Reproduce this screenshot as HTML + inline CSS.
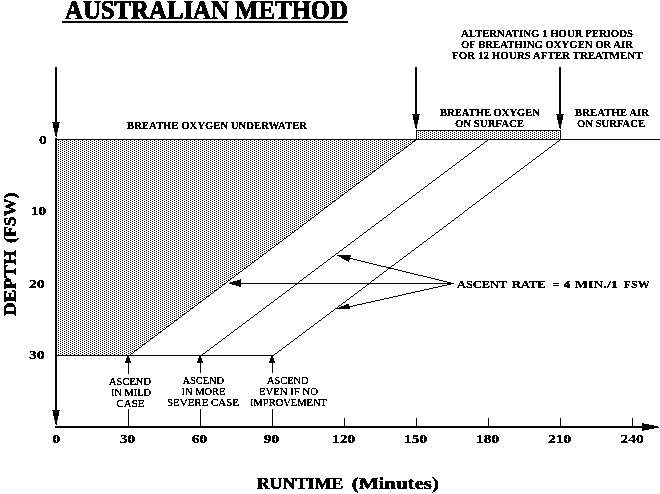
<!DOCTYPE html>
<html><head><meta charset="utf-8">
<style>
html,body{margin:0;padding:0;background:#fff;}
body{width:660px;height:494px;overflow:hidden;}
svg{display:block;}
text{font-family:"Liberation Serif",serif;fill:#000;}
.b{font-weight:bold;stroke:#000;stroke-width:0.1px;}
.d{font-weight:bold;}
.h{font-weight:bold;stroke:#000;stroke-width:0.3px;}
</style></head><body>
<svg width="660" height="494" viewBox="0 0 660 494">
<defs>
<pattern id="dots" x="0" y="0" width="4" height="2" patternUnits="userSpaceOnUse">
<rect x="2" y="0" width="1" height="1" fill="#000"/>
<rect x="0" y="1" width="1" height="1" fill="#000"/>
</pattern>
<filter id="th" filterUnits="userSpaceOnUse" x="0" y="0" width="660" height="494" color-interpolation-filters="sRGB">
<feComponentTransfer><feFuncA type="discrete" tableValues="0 0 1 1 1"/></feComponentTransfer>
</filter>
<filter id="th3" filterUnits="userSpaceOnUse" x="0" y="0" width="660" height="494" color-interpolation-filters="sRGB">
<feComponentTransfer><feFuncA type="discrete" tableValues="0 1 1"/></feComponentTransfer>
</filter>
<filter id="th2" filterUnits="userSpaceOnUse" x="0" y="0" width="660" height="494" color-interpolation-filters="sRGB">
<feComponentTransfer><feFuncA type="discrete" tableValues="0 0 1 1 1 1 1"/></feComponentTransfer>
</filter>
<g id="ad"><rect x="0" y="0" width="8" height="1"/><rect x="1" y="1" width="6" height="5"/><rect x="2" y="6" width="4" height="4"/><rect x="3" y="10" width="2" height="4"/><rect x="4" y="14" width="1" height="1"/></g>
<g id="au"><rect x="2" y="0" width="2" height="2"/><rect x="1" y="2" width="4" height="3"/><rect x="0" y="5" width="6" height="2"/></g>
<g id="ar"><rect x="0" y="0" width="2" height="8"/><rect x="2" y="1" width="5" height="6"/><rect x="7" y="2" width="5" height="4"/><rect x="12" y="3" width="4" height="2"/><rect x="16" y="4" width="1" height="1"/></g>
</defs>
<rect width="660" height="494" fill="#fff"/>
<g shape-rendering="crispEdges">
<!-- shaded regions -->
<polygon points="57,140 416,140 130,355 57,355" fill="url(#dots)"/>
<rect x="417" y="131" width="143" height="8" fill="url(#dots)"/>
<!-- rect border -->
<rect x="416" y="130" width="145" height="1" fill="#000"/>
<rect x="416" y="130" width="1" height="10" fill="#000"/>
<rect x="560" y="130" width="1" height="10" fill="#000"/>
<!-- main horizontal lines -->
<rect x="55" y="139" width="605" height="1" fill="#000"/>
<rect x="55" y="355" width="219" height="1" fill="#000"/>
<!-- axes -->
<rect x="55" y="138" width="2" height="273" fill="#000"/>
<rect x="55" y="426" width="588" height="2" fill="#000"/>
<!-- ticks -->
<rect x="344" y="418" width="1" height="8" fill="#000"/>
<rect x="416" y="418" width="1" height="8" fill="#000"/>
<rect x="488" y="418" width="1" height="8" fill="#000"/>
<rect x="560" y="418" width="1" height="8" fill="#000"/>
<rect x="632" y="418" width="1" height="8" fill="#000"/>
<!-- vertical ascend lines -->
<rect x="128" y="356" width="1" height="18" fill="#000"/>
<rect x="128" y="409" width="1" height="17" fill="#000"/>
<rect x="200" y="356" width="1" height="17" fill="#000"/>
<rect x="200" y="409" width="1" height="17" fill="#000"/>
<rect x="272" y="356" width="1" height="17" fill="#000"/>
<rect x="272" y="409" width="1" height="17" fill="#000"/>
<!-- diagonals -->
<g stroke="#000" stroke-width="1" fill="none">
<path d="M416 139.5h1M415 140.5h1M413 141.5h2M412 142.5h1M411 143.5h1M409 144.5h2M408 145.5h1M407 146.5h1M405 147.5h2M404 148.5h1M403 149.5h1M401 150.5h2M400 151.5h1M399 152.5h1M397 153.5h2M396 154.5h1M395 155.5h1M393 156.5h2M392 157.5h1M391 158.5h1M389 159.5h2M388 160.5h1M387 161.5h1M385 162.5h2M384 163.5h1M383 164.5h1M381 165.5h2M380 166.5h1M379 167.5h1M377 168.5h2M376 169.5h1M375 170.5h1M373 171.5h2M372 172.5h1M371 173.5h1M369 174.5h2M368 175.5h1M367 176.5h1M365 177.5h2M364 178.5h1M363 179.5h1M361 180.5h2M360 181.5h1M359 182.5h1M357 183.5h2M356 184.5h1M355 185.5h1M353 186.5h2M352 187.5h1M351 188.5h1M349 189.5h2M348 190.5h1M347 191.5h1M345 192.5h2M344 193.5h1M343 194.5h1M341 195.5h2M340 196.5h1M339 197.5h1M337 198.5h2M336 199.5h1M335 200.5h1M333 201.5h2M332 202.5h1M331 203.5h1M329 204.5h2M328 205.5h1M327 206.5h1M325 207.5h2M324 208.5h1M323 209.5h1M321 210.5h2M320 211.5h1M319 212.5h1M318 213.5h1M316 214.5h2M315 215.5h1M314 216.5h1M312 217.5h2M311 218.5h1M310 219.5h1M308 220.5h2M307 221.5h1M306 222.5h1M304 223.5h2M303 224.5h1M302 225.5h1M300 226.5h2M299 227.5h1M298 228.5h1M296 229.5h2M295 230.5h1M294 231.5h1M292 232.5h2M291 233.5h1M290 234.5h1M288 235.5h2M287 236.5h1M286 237.5h1M284 238.5h2M283 239.5h1M282 240.5h1M280 241.5h2M279 242.5h1M278 243.5h1M276 244.5h2M275 245.5h1M274 246.5h1M272 247.5h2M271 248.5h1M270 249.5h1M268 250.5h2M267 251.5h1M266 252.5h1M264 253.5h2M263 254.5h1M262 255.5h1M260 256.5h2M259 257.5h1M258 258.5h1M256 259.5h2M255 260.5h1M254 261.5h1M252 262.5h2M251 263.5h1M250 264.5h1M248 265.5h2M247 266.5h1M246 267.5h1M244 268.5h2M243 269.5h1M242 270.5h1M240 271.5h2M239 272.5h1M238 273.5h1M236 274.5h2M235 275.5h1M234 276.5h1M232 277.5h2M231 278.5h1M230 279.5h1M228 280.5h2M227 281.5h1M226 282.5h1M225 283.5h1M223 284.5h2M222 285.5h1M221 286.5h1M219 287.5h2M218 288.5h1M217 289.5h1M215 290.5h2M214 291.5h1M213 292.5h1M211 293.5h2M210 294.5h1M209 295.5h1M207 296.5h2M206 297.5h1M205 298.5h1M203 299.5h2M202 300.5h1M201 301.5h1M199 302.5h2M198 303.5h1M197 304.5h1M195 305.5h2M194 306.5h1M193 307.5h1M191 308.5h2M190 309.5h1M189 310.5h1M187 311.5h2M186 312.5h1M185 313.5h1M183 314.5h2M182 315.5h1M181 316.5h1M179 317.5h2M178 318.5h1M177 319.5h1M175 320.5h2M174 321.5h1M173 322.5h1M171 323.5h2M170 324.5h1M169 325.5h1M167 326.5h2M166 327.5h1M165 328.5h1M163 329.5h2M162 330.5h1M161 331.5h1M159 332.5h2M158 333.5h1M157 334.5h1M155 335.5h2M154 336.5h1M153 337.5h1M151 338.5h2M150 339.5h1M149 340.5h1M147 341.5h2M146 342.5h1M145 343.5h1M143 344.5h2M142 345.5h1M141 346.5h1M139 347.5h2M138 348.5h1M137 349.5h1M135 350.5h2M134 351.5h1M133 352.5h1M131 353.5h2M130 354.5h1M129 355.5h1M488 139.5h1M487 140.5h1M485 141.5h2M484 142.5h1M483 143.5h1M481 144.5h2M480 145.5h1M479 146.5h1M477 147.5h2M476 148.5h1M475 149.5h1M473 150.5h2M472 151.5h1M471 152.5h1M469 153.5h2M468 154.5h1M467 155.5h1M465 156.5h2M464 157.5h1M463 158.5h1M461 159.5h2M460 160.5h1M459 161.5h1M457 162.5h2M456 163.5h1M455 164.5h1M453 165.5h2M452 166.5h1M451 167.5h1M449 168.5h2M448 169.5h1M447 170.5h1M445 171.5h2M444 172.5h1M443 173.5h1M441 174.5h2M440 175.5h1M439 176.5h1M437 177.5h2M436 178.5h1M435 179.5h1M433 180.5h2M432 181.5h1M431 182.5h1M429 183.5h2M428 184.5h1M427 185.5h1M425 186.5h2M424 187.5h1M423 188.5h1M421 189.5h2M420 190.5h1M419 191.5h1M417 192.5h2M416 193.5h1M415 194.5h1M413 195.5h2M412 196.5h1M411 197.5h1M409 198.5h2M408 199.5h1M407 200.5h1M405 201.5h2M404 202.5h1M403 203.5h1M401 204.5h2M400 205.5h1M399 206.5h1M397 207.5h2M396 208.5h1M395 209.5h1M393 210.5h2M392 211.5h1M391 212.5h1M390 213.5h1M388 214.5h2M387 215.5h1M386 216.5h1M384 217.5h2M383 218.5h1M382 219.5h1M380 220.5h2M379 221.5h1M378 222.5h1M376 223.5h2M375 224.5h1M374 225.5h1M372 226.5h2M371 227.5h1M370 228.5h1M368 229.5h2M367 230.5h1M366 231.5h1M364 232.5h2M363 233.5h1M362 234.5h1M360 235.5h2M359 236.5h1M358 237.5h1M356 238.5h2M355 239.5h1M354 240.5h1M352 241.5h2M351 242.5h1M350 243.5h1M348 244.5h2M347 245.5h1M346 246.5h1M344 247.5h2M343 248.5h1M342 249.5h1M340 250.5h2M339 251.5h1M338 252.5h1M336 253.5h2M335 254.5h1M334 255.5h1M332 256.5h2M331 257.5h1M330 258.5h1M328 259.5h2M327 260.5h1M326 261.5h1M324 262.5h2M323 263.5h1M322 264.5h1M320 265.5h2M319 266.5h1M318 267.5h1M316 268.5h2M315 269.5h1M314 270.5h1M312 271.5h2M311 272.5h1M310 273.5h1M308 274.5h2M307 275.5h1M306 276.5h1M304 277.5h2M303 278.5h1M302 279.5h1M300 280.5h2M299 281.5h1M298 282.5h1M297 283.5h1M295 284.5h2M294 285.5h1M293 286.5h1M291 287.5h2M290 288.5h1M289 289.5h1M287 290.5h2M286 291.5h1M285 292.5h1M283 293.5h2M282 294.5h1M281 295.5h1M279 296.5h2M278 297.5h1M277 298.5h1M275 299.5h2M274 300.5h1M273 301.5h1M271 302.5h2M270 303.5h1M269 304.5h1M267 305.5h2M266 306.5h1M265 307.5h1M263 308.5h2M262 309.5h1M261 310.5h1M259 311.5h2M258 312.5h1M257 313.5h1M255 314.5h2M254 315.5h1M253 316.5h1M251 317.5h2M250 318.5h1M249 319.5h1M247 320.5h2M246 321.5h1M245 322.5h1M243 323.5h2M242 324.5h1M241 325.5h1M239 326.5h2M238 327.5h1M237 328.5h1M235 329.5h2M234 330.5h1M233 331.5h1M231 332.5h2M230 333.5h1M229 334.5h1M227 335.5h2M226 336.5h1M225 337.5h1M223 338.5h2M222 339.5h1M221 340.5h1M219 341.5h2M218 342.5h1M217 343.5h1M215 344.5h2M214 345.5h1M213 346.5h1M211 347.5h2M210 348.5h1M209 349.5h1M207 350.5h2M206 351.5h1M205 352.5h1M203 353.5h2M202 354.5h1M201 355.5h1M560 139.5h1M559 140.5h1M557 141.5h2M556 142.5h1M555 143.5h1M553 144.5h2M552 145.5h1M551 146.5h1M549 147.5h2M548 148.5h1M547 149.5h1M545 150.5h2M544 151.5h1M543 152.5h1M541 153.5h2M540 154.5h1M539 155.5h1M537 156.5h2M536 157.5h1M535 158.5h1M533 159.5h2M532 160.5h1M531 161.5h1M529 162.5h2M528 163.5h1M527 164.5h1M525 165.5h2M524 166.5h1M523 167.5h1M521 168.5h2M520 169.5h1M519 170.5h1M517 171.5h2M516 172.5h1M515 173.5h1M513 174.5h2M512 175.5h1M511 176.5h1M509 177.5h2M508 178.5h1M507 179.5h1M505 180.5h2M504 181.5h1M503 182.5h1M501 183.5h2M500 184.5h1M499 185.5h1M497 186.5h2M496 187.5h1M495 188.5h1M493 189.5h2M492 190.5h1M491 191.5h1M489 192.5h2M488 193.5h1M487 194.5h1M485 195.5h2M484 196.5h1M483 197.5h1M481 198.5h2M480 199.5h1M479 200.5h1M477 201.5h2M476 202.5h1M475 203.5h1M473 204.5h2M472 205.5h1M471 206.5h1M469 207.5h2M468 208.5h1M467 209.5h1M465 210.5h2M464 211.5h1M463 212.5h1M462 213.5h1M460 214.5h2M459 215.5h1M458 216.5h1M456 217.5h2M455 218.5h1M454 219.5h1M452 220.5h2M451 221.5h1M450 222.5h1M448 223.5h2M447 224.5h1M446 225.5h1M444 226.5h2M443 227.5h1M442 228.5h1M440 229.5h2M439 230.5h1M438 231.5h1M436 232.5h2M435 233.5h1M434 234.5h1M432 235.5h2M431 236.5h1M430 237.5h1M428 238.5h2M427 239.5h1M426 240.5h1M424 241.5h2M423 242.5h1M422 243.5h1M420 244.5h2M419 245.5h1M418 246.5h1M416 247.5h2M415 248.5h1M414 249.5h1M412 250.5h2M411 251.5h1M410 252.5h1M408 253.5h2M407 254.5h1M406 255.5h1M404 256.5h2M403 257.5h1M402 258.5h1M400 259.5h2M399 260.5h1M398 261.5h1M396 262.5h2M395 263.5h1M394 264.5h1M392 265.5h2M391 266.5h1M390 267.5h1M388 268.5h2M387 269.5h1M386 270.5h1M384 271.5h2M383 272.5h1M382 273.5h1M380 274.5h2M379 275.5h1M378 276.5h1M376 277.5h2M375 278.5h1M374 279.5h1M372 280.5h2M371 281.5h1M370 282.5h1M369 283.5h1M367 284.5h2M366 285.5h1M365 286.5h1M363 287.5h2M362 288.5h1M361 289.5h1M359 290.5h2M358 291.5h1M357 292.5h1M355 293.5h2M354 294.5h1M353 295.5h1M351 296.5h2M350 297.5h1M349 298.5h1M347 299.5h2M346 300.5h1M345 301.5h1M343 302.5h2M342 303.5h1M341 304.5h1M339 305.5h2M338 306.5h1M337 307.5h1M335 308.5h2M334 309.5h1M333 310.5h1M331 311.5h2M330 312.5h1M329 313.5h1M327 314.5h2M326 315.5h1M325 316.5h1M323 317.5h2M322 318.5h1M321 319.5h1M319 320.5h2M318 321.5h1M317 322.5h1M315 323.5h2M314 324.5h1M313 325.5h1M311 326.5h2M310 327.5h1M309 328.5h1M307 329.5h2M306 330.5h1M305 331.5h1M303 332.5h2M302 333.5h1M301 334.5h1M299 335.5h2M298 336.5h1M297 337.5h1M295 338.5h2M294 339.5h1M293 340.5h1M291 341.5h2M290 342.5h1M289 343.5h1M287 344.5h2M286 345.5h1M285 346.5h1M283 347.5h2M282 348.5h1M281 349.5h1M279 350.5h2M278 351.5h1M277 352.5h1M275 353.5h2M274 354.5h1M273 355.5h1M350 258.5h3M353 259.5h4M357 260.5h4M361 261.5h4M365 262.5h4M369 263.5h4M373 264.5h4M377 265.5h4M381 266.5h5M386 267.5h4M390 268.5h4M394 269.5h4M398 270.5h4M402 271.5h4M406 272.5h4M410 273.5h4M414 274.5h4M418 275.5h5M423 276.5h4M427 277.5h4M431 278.5h4M435 279.5h4M439 280.5h4M443 281.5h4M447 282.5h4M451 283.5h3M451 283.5h3M447 284.5h4M442 285.5h5M438 286.5h4M433 287.5h5M429 288.5h4M424 289.5h5M420 290.5h4M415 291.5h5M411 292.5h4M406 293.5h5M402 294.5h4M398 295.5h4M393 296.5h5M389 297.5h4M384 298.5h5M380 299.5h4M375 300.5h5M371 301.5h4M366 302.5h5M362 303.5h4M357 304.5h5M353 305.5h4M350 306.5h3"/>
<line x1="453" y1="283.5" x2="240" y2="283.5"/>
</g>
<!-- arrow shafts -->
<rect x="55" y="67" width="2" height="56" fill="#000"/>
<rect x="415" y="67" width="2" height="48" fill="#000"/>
<rect x="559" y="67" width="2" height="48" fill="#000"/>
<!-- arrow heads down -->
<use href="#ad" x="52" y="122"/>
<use href="#ad" x="412" y="114"/>
<use href="#ad" x="556" y="114"/>
<use href="#ad" x="52" y="410"/>
<!-- x axis arrow -->
<use href="#ar" x="642" y="423"/>
<!-- up arrows -->
<use href="#au" x="125" y="356"/>
<use href="#au" x="197" y="356"/>
<use href="#au" x="269" y="356"/>
<!-- ascent arrows heads -->
<g fill="#000"><rect x="240" y="279" width="1" height="1"/><rect x="237" y="280" width="4" height="1"/><rect x="233" y="281" width="8" height="1"/><rect x="230" y="282" width="11" height="1"/><rect x="229" y="283" width="12" height="1"/><rect x="232" y="284" width="9" height="1"/><rect x="236" y="285" width="5" height="1"/><rect x="239" y="286" width="2" height="1"/>
<rect x="337" y="255" width="14" height="1"/><rect x="339" y="256" width="12" height="1"/><rect x="341" y="257" width="9" height="1"/><rect x="342" y="258" width="8" height="1"/><rect x="344" y="259" width="6" height="1"/><rect x="346" y="260" width="3" height="1"/><rect x="348" y="261" width="1" height="1"/>
<rect x="346" y="304" width="3" height="1"/><rect x="344" y="305" width="5" height="1"/><rect x="341" y="306" width="9" height="1"/><rect x="339" y="307" width="11" height="1"/><rect x="337" y="308" width="13" height="1"/></g>
<!-- title underline -->
<rect x="62" y="21" width="286" height="2" fill="#000"/>
</g>
<!-- text -->
<g id="txt" filter="url(#th)">
<text class="h" style="stroke-width:0.6px" x="65" y="18.5" font-size="26.5" textLength="283" lengthAdjust="spacingAndGlyphs">AUSTRALIAN METHOD</text>
<text class="b" x="461" y="37" font-size="11" textLength="172" lengthAdjust="spacingAndGlyphs">ALTERNATING 1 HOUR PERIODS</text>
<text class="b" x="461" y="48" font-size="11" textLength="172" lengthAdjust="spacingAndGlyphs">OF BREATHING OXYGEN OR AIR</text>
<text class="b" x="452" y="59" font-size="11" textLength="190.5" lengthAdjust="spacingAndGlyphs">FOR 12 HOURS AFTER TREATMENT</text>
<text class="b" x="127" y="129" font-size="11" textLength="180" lengthAdjust="spacingAndGlyphs">BREATHE OXYGEN UNDERWATER</text>
<text class="b" x="440" y="116" font-size="11" textLength="100" lengthAdjust="spacingAndGlyphs">BREATHE OXYGEN</text>
<text class="b" x="455" y="127" font-size="11" textLength="69" lengthAdjust="spacingAndGlyphs">ON SURFACE</text>
<text class="b" x="575" y="116" font-size="11" textLength="74" lengthAdjust="spacingAndGlyphs">BREATHE AIR</text>
<text class="b" x="577" y="127" font-size="11" textLength="68" lengthAdjust="spacingAndGlyphs">ON SURFACE</text>
<text class="b" x="457" y="287.5" font-size="11" textLength="50.3" lengthAdjust="spacingAndGlyphs">ASCENT</text>
<text class="b" x="512" y="287.5" font-size="11" textLength="33.5" lengthAdjust="spacingAndGlyphs">RATE</text>
<text class="b" x="552.5" y="287.5" font-size="11" textLength="7.5" lengthAdjust="spacingAndGlyphs">=</text>
<text class="b" x="563.7" y="287.5" font-size="11" textLength="6.7" lengthAdjust="spacingAndGlyphs">4</text>
<text class="b" x="574.8" y="287.5" font-size="11" textLength="43" lengthAdjust="spacingAndGlyphs">MIN./1</text>
<text class="b" x="623.6" y="287.5" font-size="11" textLength="26.1" lengthAdjust="spacingAndGlyphs">FSW</text>
<text class="h" x="256.7" y="489" font-size="17.5" textLength="86.6" lengthAdjust="spacingAndGlyphs">RUNTIME</text>
<text class="h" x="351.7" y="489" font-size="17.5" textLength="87.3" lengthAdjust="spacingAndGlyphs">(Minutes)</text>
<g transform="translate(15.5,316) rotate(-90)" font-size="17.5">
<text class="h" x="0" y="0" textLength="66" lengthAdjust="spacingAndGlyphs">DEPTH</text>
<text class="h" x="73" y="0" textLength="50.5" lengthAdjust="spacingAndGlyphs">(FSW)</text>
</g>
</g>
<g filter="url(#th3)">
<!-- y labels -->
<text class="d" transform="translate(39.0,144) scale(1.3,1)" font-size="12" letter-spacing="0">0</text>
<text class="d" transform="translate(30.7,215) scale(1.3,1)" font-size="12" letter-spacing="0">10</text>
<text class="d" transform="translate(29.0,288) scale(1.3,1)" font-size="12" letter-spacing="0">20</text>
<text class="d" transform="translate(29.0,359) scale(1.3,1)" font-size="12" letter-spacing="0">30</text>
<!-- x labels -->
<text class="d" transform="translate(52.5,443) scale(1.3,1)" font-size="12" letter-spacing="0">0</text>
<text class="d" transform="translate(119.7,443) scale(1.3,1)" font-size="12" letter-spacing="0">30</text>
<text class="d" transform="translate(191.7,443) scale(1.3,1)" font-size="12" letter-spacing="0">60</text>
<text class="d" transform="translate(263.7,443) scale(1.3,1)" font-size="12" letter-spacing="0">90</text>
<text class="d" transform="translate(332.0,443) scale(1.3,1)" font-size="12" letter-spacing="0">120</text>
<text class="d" transform="translate(404.0,443) scale(1.3,1)" font-size="12" letter-spacing="0">150</text>
<text class="d" transform="translate(476.0,443) scale(1.3,1)" font-size="12" letter-spacing="0">180</text>
<text class="d" transform="translate(548.0,443) scale(1.3,1)" font-size="12" letter-spacing="0">210</text>
<text class="d" transform="translate(620.5,443) scale(1.3,1)" font-size="12" letter-spacing="0">240</text>
</g>
<!-- ascend labels -->
<g font-size="11" filter="url(#th2)">
<text x="109" y="385" textLength="42" lengthAdjust="spacingAndGlyphs">ASCEND</text>
<text x="111" y="396" textLength="40" lengthAdjust="spacingAndGlyphs">IN MILD</text>
<text x="116.5" y="407" textLength="28" lengthAdjust="spacingAndGlyphs">CASE</text>
<text x="182.5" y="384" textLength="41.5" lengthAdjust="spacingAndGlyphs">ASCEND</text>
<text x="181.5" y="395" textLength="44" lengthAdjust="spacingAndGlyphs">IN MORE</text>
<text x="167" y="406" textLength="72" lengthAdjust="spacingAndGlyphs">SEVERE CASE</text>
<text x="267" y="384" textLength="41.5" lengthAdjust="spacingAndGlyphs">ASCEND</text>
<text x="259" y="395" textLength="59" lengthAdjust="spacingAndGlyphs">EVEN IF NO</text>
<text x="250" y="406" textLength="77" lengthAdjust="spacingAndGlyphs">IMPROVEMENT</text>
</g>
</svg>
</body></html>
